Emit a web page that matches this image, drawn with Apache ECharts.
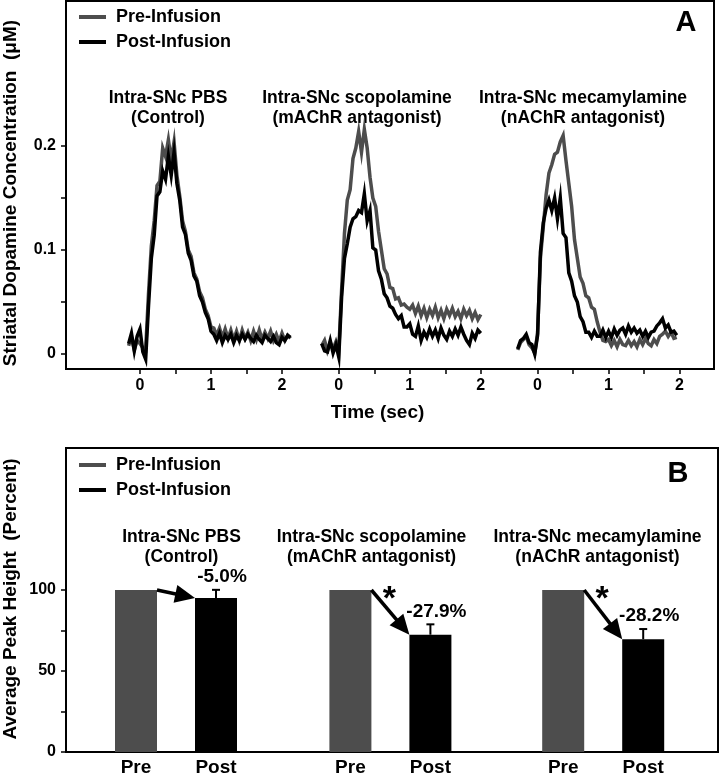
<!DOCTYPE html>
<html>

<head>
    <meta charset="utf-8">
    <title>Striatal dopamine - intra-SNc infusion</title>
    <script src="https://cdn.jsdelivr.net/npm/echarts@6.0.0/dist/echarts.min.js"></script>
    <style>
        html, body { margin: 0; padding: 0; background: #fff; }
        #main { width: 720px; height: 774px; }
    </style>
</head>

<body>
    <div id="main"></div>
    <script>
        // ---- data (panel A: traces, seconds / uM) ----
        var timeSec = [-0.28, -0.24, -0.20, -0.16, -0.12, -0.08, -0.04, 0, 0.04, 0.08, 0.12, 0.16, 0.20, 0.24, 0.28, 0.32,
            0.36, 0.40, 0.44, 0.48, 0.52, 0.56, 0.60, 0.64, 0.68, 0.72, 0.76, 0.80, 0.84, 0.88, 0.92, 0.96, 1.00, 1.04,
            1.08, 1.12, 1.16, 1.20, 1.24, 1.28, 1.32, 1.36, 1.40, 1.44, 1.48, 1.52, 1.56, 1.60, 1.64, 1.68, 1.72, 1.76,
            1.80, 1.84, 1.88, 1.92, 1.96, 2.00, 2.04, 2.08, 2.12];

        var pbsPre = [null, null, null, 0.008, 0.016, 0.004, 0.013, 0.010, 0.006, 0.004, 0.058, 0.104, 0.128, 0.162, 0.166,
            0.198, 0.190, 0.206, 0.186, 0.204, 0.172, 0.152, 0.128, 0.118, 0.100, 0.094, 0.078, 0.072, 0.060, 0.054, 0.043,
            0.037, 0.026, 0.025, 0.018, 0.025, 0.016, 0.024, 0.015, 0.023, 0.014, 0.022, 0.013, 0.023, 0.015, 0.021, 0.013,
            0.022, 0.014, 0.023, 0.014, 0.021, 0.015, 0.022, 0.013, 0.019, 0.012, 0.020, 0.013, 0.018, 0.015];
        var pbsPost = [null, null, null, 0.010, 0.020, 0.003, 0.017, 0.024, 0.002, -0.005, 0.046, 0.092, 0.114, 0.152, 0.156,
            0.176, 0.168, 0.190, 0.172, 0.194, 0.164, 0.148, 0.122, 0.115, 0.097, 0.090, 0.075, 0.070, 0.056, 0.050, 0.040,
            0.034, 0.022, 0.019, 0.013, 0.020, 0.011, 0.018, 0.014, 0.019, 0.011, 0.018, 0.013, 0.019, 0.014, 0.019, 0.015,
            0.012, 0.018, 0.014, 0.011, 0.018, 0.015, 0.012, 0.017, 0.011, 0.009, 0.016, 0.013, 0.018, 0.016];

        var scoPre = [null, 0.008, 0.013, 0.003, 0.011, 0.005, 0.012, 0.003, 0.062, 0.116, 0.148, 0.158, 0.188, 0.198, 0.214,
            0.194, 0.216, 0.198, 0.170, 0.150, 0.142, 0.118, 0.100, 0.082, 0.077, 0.064, 0.063, 0.053, 0.054, 0.047, 0.048,
            0.045, 0.043, 0.047, 0.039, 0.046, 0.037, 0.044, 0.035, 0.043, 0.037, 0.045, 0.035, 0.042, 0.034, 0.043, 0.037,
            0.044, 0.036, 0.041, 0.034, 0.043, 0.037, 0.042, 0.034, 0.040, 0.033, 0.038, null, null, null];
        var scoPost = [null, 0.010, 0.003, 0.002, 0.013, 0.001, 0.009, -0.003, 0.055, 0.092, 0.106, 0.122, 0.130, 0.132, 0.138,
            0.136, 0.154, 0.128, 0.138, 0.102, 0.100, 0.080, 0.072, 0.058, 0.054, 0.046, 0.044, 0.038, 0.034, 0.037, 0.026,
            0.026, 0.029, 0.019, 0.017, 0.027, 0.013, 0.021, 0.016, 0.024, 0.017, 0.023, 0.015, 0.025, 0.018, 0.014, 0.022,
            0.017, 0.024, 0.018, 0.026, 0.019, 0.013, 0.009, 0.020, 0.015, 0.023, 0.020, null, null, null];

        var mecPre = [0.004, 0.011, 0.014, 0.017, 0.009, 0.006, 0.001, 0.020, 0.092, 0.122, 0.153, 0.174, 0.182, 0.192, 0.194,
            0.204, 0.210, 0.186, 0.164, 0.142, 0.110, 0.092, 0.074, 0.068, 0.056, 0.054, 0.045, 0.043, 0.031, 0.021, 0.013,
            0.012, 0.014, 0.008, 0.013, 0.007, 0.014, 0.009, 0.008, 0.013, 0.008, 0.012, 0.007, 0.014, 0.009, 0.015, 0.010,
            0.008, 0.014, 0.010, 0.017, 0.019, 0.022, 0.017, 0.021, 0.015, 0.016, null, null, null, null];
        var mecPost = [0.005, 0.013, 0.015, 0.019, 0.011, 0.009, 0.000, 0.018, 0.098, 0.126, 0.140, 0.148, 0.138, 0.150, 0.130,
            0.150, 0.116, 0.112, 0.078, 0.070, 0.056, 0.050, 0.036, 0.031, 0.021, 0.021, 0.016, 0.022, 0.017, 0.017, 0.023,
            0.016, 0.022, 0.016, 0.024, 0.018, 0.023, 0.025, 0.019, 0.027, 0.021, 0.025, 0.020, 0.023, 0.017, 0.022, 0.016,
            0.021, 0.022, 0.027, 0.030, 0.034, 0.025, 0.028, 0.021, 0.022, 0.018, null, null, null, null];

        var secTicks = [0, 0.5, 1, 1.5, 2];
        var secLabels = [0, 1, 2];
        var concTicks = [0, 0.05, 0.1, 0.15, 0.2];
        var concLabels = [0, 0.1, 0.2];

        // ---- data (panel B: percent of pre-infusion peak) ----
        var preHeight = [100, 100, 100];
        var postHeight = [95.0, 72.4, 69.6];
        var postErr = [5.1, 6.4, 6.3];
        var changeText = ['-5.0%', '-27.9%', '-28.2%'];
        var signifText = ['', '*', '*'];
        var pctTicks = [0, 25, 50, 75, 100];
        var pctLabels = [0, 50, 100];

        var groupTitles = ['Intra-SNc PBS\n(Control)', 'Intra-SNc scopolamine\n(mAChR antagonist)',
            'Intra-SNc mecamylamine\n(nAChR antagonist)'];

        // ---- layout ----
        var FONT = '"Liberation Sans", Arial, Helvetica, sans-serif';
        var GRAY = '#4d4d4d';
        var groupShiftA = [0, 2.8, 5.6];          // each trace group sits on its own stretch of the time axis
        var prePosB = [0, 2.68, 5.34];            // bar slots on panel B x axis
        var postPosB = [1, 3.68, 6.34];
        var BAR_W = 42;

        function flat(shifts, vals) {
            var out = [];
            shifts.forEach(function (s) {
                vals.forEach(function (v) { out.push(+(s + v).toFixed(3)); });
            });
            return out;
        }

        function traceSeries(name, vals, shift, color) {
            return {
                type: 'line', name: name, xAxisIndex: 0, yAxisIndex: 0,
                data: timeSec.map(function (t, i) { return [+(t + shift).toFixed(3), vals[i]]; }),
                showSymbol: false, symbol: 'none', silent: true,
                color: color,
                lineStyle: { width: 3.5, color: color, join: 'miter' },
                itemStyle: { color: color }
            };
        }

        var series = [
            traceSeries('Pre-Infusion', pbsPre, groupShiftA[0], GRAY),
            traceSeries('Pre-Infusion', scoPre, groupShiftA[1], GRAY),
            traceSeries('Pre-Infusion', mecPre, groupShiftA[2], GRAY),
            traceSeries('Post-Infusion', pbsPost, groupShiftA[0], '#000'),
            traceSeries('Post-Infusion', scoPost, groupShiftA[1], '#000'),
            traceSeries('Post-Infusion', mecPost, groupShiftA[2], '#000'),
            {
                type: 'bar', name: 'Pre-Infusion', xAxisIndex: 1, yAxisIndex: 1,
                data: preHeight.map(function (v, i) { return [prePosB[i], v]; }),
                barWidth: BAR_W, barGap: '-100%', color: GRAY, itemStyle: { color: GRAY }
            },
            {
                type: 'bar', name: 'Post-Infusion', xAxisIndex: 1, yAxisIndex: 1,
                data: postHeight.map(function (v, i) { return [postPosB[i], v]; }),
                barWidth: BAR_W, barGap: '-100%', color: '#000', itemStyle: { color: '#000' }
            },
            {
                // error bars (upper only), arrows, % change and significance marks
                type: 'custom', name: 'annot', xAxisIndex: 1, yAxisIndex: 1, z: 5, silent: true,
                data: postHeight.map(function (v, i) { return [postPosB[i], v, postErr[i], prePosB[i], preHeight[i]]; }),
                encode: { x: 0, y: 1 },
                renderItem: function (params, api) {
                    var i = params.dataIndex;
                    var x = api.value(0), v = api.value(1), e = api.value(2);
                    var base = api.coord([x, v]);
                    var top = api.coord([x, v + e]);
                    var p1 = api.coord([api.value(3), api.value(4)]);
                    p1 = [p1[0] + BAR_W / 2, p1[1]];
                    var p2 = [base[0] - BAR_W / 2, base[1]];
                    var dx = p2[0] - p1[0], dy = p2[1] - p1[1];
                    var len = Math.sqrt(dx * dx + dy * dy);
                    var ux = dx / len, uy = dy / len;
                    var headL = 20, headW = 9;
                    var hb = [p2[0] - ux * headL, p2[1] - uy * headL];
                    var stroke = { stroke: '#000', lineWidth: 2 };
                    var kids = [
                        { type: 'line', shape: { x1: base[0], y1: base[1], x2: top[0], y2: top[1] }, style: stroke },
                        { type: 'line', shape: { x1: top[0] - 4, y1: top[1], x2: top[0] + 4, y2: top[1] }, style: stroke },
                        {
                            type: 'line', shape: { x1: p1[0], y1: p1[1], x2: hb[0] + ux * 4, y2: hb[1] + uy * 4 },
                            style: { stroke: '#000', lineWidth: 3.5 }
                        },
                        {
                            type: 'polygon',
                            shape: { points: [p2, [hb[0] - uy * headW, hb[1] + ux * headW], [hb[0] + uy * headW, hb[1] - ux * headW]] },
                            style: { fill: '#000' }
                        },
                        {
                            type: 'text', x: top[0] + 6, y: top[1] - 13,
                            style: {
                                text: changeText[i], font: 'bold 19px ' + FONT, fill: '#000',
                                align: 'center', verticalAlign: 'middle', textAlign: 'center', textVerticalAlign: 'middle'
                            }
                        }
                    ];
                    if (signifText[i]) {
                        kids.push({
                            type: 'text', x: p1[0] + 18, y: p1[1] + 10,
                            style: {
                                text: signifText[i], font: 'bold 34px ' + FONT, fill: '#000',
                                align: 'center', verticalAlign: 'middle', textAlign: 'center', textVerticalAlign: 'middle'
                            }
                        });
                    }
                    return { type: 'group', children: kids };
                }
            }
        ];

        function txt(text, x, y, size, extra) {
            var el = {
                type: 'text', x: x, y: y, silent: true,
                style: {
                    text: text, font: 'bold ' + size + 'px ' + FONT, fill: '#000', lineHeight: 20,
                    align: 'center', verticalAlign: 'middle', textAlign: 'center', textVerticalAlign: 'middle'
                }
            };
            if (extra) { for (var k in extra) el[k] = extra[k]; }
            return el;
        }

        var axisFont = { fontSize: 16, fontWeight: 'bold', color: '#000', fontFamily: FONT };
        var blackLine = { onZero: false, lineStyle: { color: '#000', width: 2 } };
        var legendBase = {
            orient: 'vertical', left: 79, padding: 0, itemGap: 7, itemWidth: 27, itemHeight: 4, icon: 'rect',
            data: ['Pre-Infusion', 'Post-Infusion'], selectedMode: false,
            textStyle: { fontSize: 18, fontWeight: 'bold', color: '#000', fontFamily: FONT, padding: [0, 0, 0, 5] }
        };

        var chart = echarts.init(document.getElementById('main'));
        chart.setOption({
            animation: false,
            backgroundColor: '#fff',
            textStyle: { fontFamily: FONT },
            legend: [
                Object.assign({}, legendBase, { top: 8 }),
                Object.assign({}, legendBase, { top: 456 })
            ],
            grid: [
                { left: 66, right: 6, top: 1, bottom: 405, show: true, borderColor: '#000', borderWidth: 2, outerBoundsMode: 'none', containLabel: false },
                { left: 66, right: 2, top: 448, bottom: 22, show: true, borderColor: '#000', borderWidth: 2, outerBoundsMode: 'none', containLabel: false }
            ],
            xAxis: [
                {
                    type: 'value', gridIndex: 0, min: -1.042, max: 8.085,
                    splitLine: { show: false },
                    axisLine: blackLine,
                    axisTick: { customValues: flat(groupShiftA, secTicks), length: 5, lineStyle: { color: '#000', width: 1.5 } },
                    axisLabel: Object.assign({
                        customValues: flat(groupShiftA, secLabels), margin: 9,
                        formatter: function (v) {
                            var s = 0;
                            groupShiftA.forEach(function (g) { if (v >= g - 1e-6) s = g; });
                            return String(Math.round(v - s));
                        }
                    }, axisFont)
                },
                {
                    type: 'value', gridIndex: 1, min: -0.875, max: 7.275,
                    splitLine: { show: false },
                    axisLine: blackLine,
                    axisTick: { show: false },
                    axisLabel: Object.assign({}, axisFont, {
                        customValues: prePosB.concat(postPosB), margin: 6, fontSize: 19,
                        formatter: function (v) {
                            return prePosB.some(function (p) { return Math.abs(p - v) < 1e-6; }) ? 'Pre' : 'Post';
                        }
                    })
                }
            ],
            yAxis: [
                {
                    type: 'value', gridIndex: 0, min: -0.0144, max: 0.3394,
                    splitLine: { show: false },
                    axisLine: blackLine,
                    axisTick: { customValues: concTicks, length: 5, lineStyle: { color: '#000', width: 1.5 } },
                    axisLabel: Object.assign({ customValues: concLabels, margin: 10, formatter: function (v) { return String(v); } }, axisFont)
                },
                {
                    type: 'value', gridIndex: 1, min: 0, max: 187.65,
                    splitLine: { show: false },
                    axisLine: blackLine,
                    axisTick: { customValues: pctTicks, length: 5, lineStyle: { color: '#000', width: 1.5 } },
                    axisLabel: Object.assign({ customValues: pctLabels, margin: 10 }, axisFont)
                }
            ],
            graphic: [
                txt(groupTitles[0], 168, 108, 17.5),
                txt(groupTitles[1], 357, 108, 17.5),
                txt(groupTitles[2], 583, 108, 17.5),
                txt(groupTitles[0], 181.5, 547.5, 17.5),
                txt(groupTitles[1], 371.5, 547.5, 17.5),
                txt(groupTitles[2], 597.5, 547.5, 17.5),
                txt('A', 686, 23, 29),
                txt('B', 678, 474, 29),
                txt('Time (sec)', 377.5, 413, 19),
                txt('Striatal Dopamine Concentration  (\u03bcM)', 11, 193, 19, { rotation: Math.PI / 2 }),
                txt('Average Peak Height  (Percent)', 11, 599, 19, { rotation: Math.PI / 2 })
            ],
            series: series
        });
    </script>
</body>

</html>
